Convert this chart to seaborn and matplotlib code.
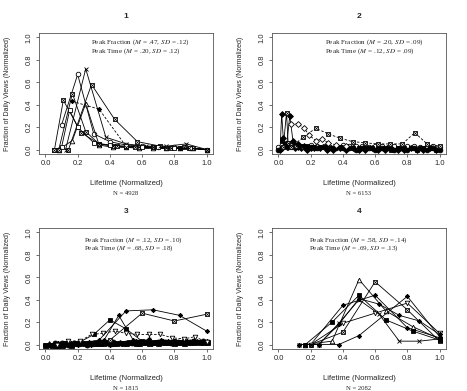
import matplotlib
matplotlib.use("Agg")
import matplotlib.pyplot as plt
import seaborn as sns

# ---- data ----
titles = ["1", "2", "3", "4"]
sample_sizes = ["N = 4928", "N = 6153", "N = 1815", "N = 2082"]
peak_frac = [(".47", ".12"), (".20", ".09"), (".12", ".10"), (".58", ".14")]
peak_time = [(".20", ".12"), (".12", ".09"), (".68", ".18"), (".69", ".13")]
ticks = [0.0, 0.2, 0.4, 0.6, 0.8, 1.0]
tick_labels = ["0.0", "0.2", "0.4", "0.6", "0.8", "1.0"]

x5 = [0.2, 0.4, 0.6, 0.8, 1.0]
x6 = [0.167, 0.333, 0.5, 0.667, 0.833, 1.0]
x7 = [0.143, 0.286, 0.429, 0.571, 0.714, 0.857, 1.0]
x8 = [0.125, 0.25, 0.375, 0.5, 0.625, 0.75, 0.875, 1.0]
x9 = [0.056, 0.111, 0.222, 0.333, 0.444, 0.556, 0.667, 0.778, 0.889, 1.0]
x10 = [0.1, 0.2, 0.3, 0.4, 0.5, 0.6, 0.7, 0.8, 0.9, 1.0]
x11 = [0.091, 0.182, 0.273, 0.364, 0.455, 0.545, 0.636, 0.727, 0.818, 0.909, 1.0]
x12 = [0.083, 0.167, 0.25, 0.333, 0.417, 0.5, 0.583, 0.667, 0.75, 0.833, 0.917, 1.0]
x13 = [0.077, 0.154, 0.231, 0.308, 0.385, 0.462, 0.538, 0.615, 0.692, 0.769, 0.846, 0.923, 1.0]
x14 = [0.071, 0.143, 0.214, 0.286, 0.357, 0.429, 0.5, 0.571, 0.643, 0.714, 0.786, 0.857, 0.929, 1.0]
x_irr = [0.05, 0.1, 0.15, 0.2, 0.3, 0.4, 0.5, 0.6, 0.7, 0.8, 0.9, 1.0]
band_x = [0.00, 0.04, 0.08, 0.12, 0.16, 0.20, 0.24, 0.28, 0.32, 0.36, 0.40, 0.44, 0.48,
          0.52, 0.56, 0.60, 0.64, 0.68, 0.72, 0.76, 0.80, 0.84, 0.88, 0.92, 0.96, 1.00]
band_x2 = [0.02, 0.06, 0.10, 0.14, 0.18, 0.22, 0.26, 0.30, 0.34, 0.38, 0.42, 0.46, 0.50,
           0.54, 0.58, 0.62, 0.66, 0.70, 0.74, 0.78, 0.82, 0.86, 0.90, 0.94, 0.98]

# panel 1
p1_box7 = [0.00, 0.58, 0.27, 0.07, 0.03, 0.02, 0.00]
p1_cross8 = [0.00, 0.72, 0.11, 0.05, 0.03, 0.03, 0.05, 0.00]
p1_circ10 = [0.22, 0.67, 0.14, 0.07, 0.04, 0.03, 0.02, 0.02, 0.01, 0.00]
p1_tri12 = [0.00, 0.08, 0.41, 0.04, 0.02, 0.02, 0.01, 0.01, 0.01, 0.01, 0.01, 0.00]
p1_box12 = [0.00, 0.50, 0.16, 0.05, 0.03, 0.02, 0.02, 0.02, 0.01, 0.01, 0.01, 0.00]
p1_star6 = [0.43, 0.36, 0.03, 0.02, 0.01, 0.00]
p1_box9 = [0.00, 0.44, 0.15, 0.05, 0.03, 0.02, 0.02, 0.01, 0.01, 0.00]
p1_sq_irr = [0.00, 0.02, 0.35, 0.20, 0.06, 0.04, 0.03, 0.02, 0.02, 0.01, 0.01, 0.00]

# panel 2
p2_spike_x = [0.01, 0.02, 0.03, 0.05, 0.08, 0.12, 0.16, 0.20]
p2_spike_a = [0.00, 0.32, 0.10, 0.04, 0.03, 0.02, 0.02, 0.01]
p2_spike_x2 = [0.03, 0.05, 0.06, 0.08, 0.11, 0.15]
p2_spike_b = [0.02, 0.33, 0.06, 0.04, 0.03, 0.02]
p2_spike_x3 = [0.05, 0.07, 0.09, 0.12, 0.16]
p2_spike_c = [0.02, 0.30, 0.08, 0.05, 0.03]
p2_diam_x = [0.08, 0.12, 0.16, 0.19, 0.23, 0.27, 0.31, 0.36, 0.42]
p2_diam = [0.23, 0.23, 0.19, 0.13, 0.08, 0.09, 0.06, 0.04, 0.03]
p2_dash13 = [0.02, 0.11, 0.19, 0.14, 0.10, 0.07, 0.06, 0.05, 0.05, 0.05, 0.15, 0.05, 0.03]
p2_b1 = [0.00, 0.05, 0.04, 0.03, 0.02, 0.02, 0.01, 0.02, 0.01, 0.01, 0.01, 0.01, 0.00,
         0.01, 0.01, 0.00, 0.01, 0.01, 0.00, 0.01, 0.00, 0.01, 0.01, 0.00, 0.01, 0.00]
p2_b2 = [0.08, 0.06, 0.04, 0.03, 0.03, 0.02, 0.02, 0.02, 0.01, 0.02, 0.01, 0.01, 0.01,
         0.01, 0.01, 0.01, 0.01, 0.00, 0.01, 0.01, 0.01, 0.00, 0.01, 0.01, 0.00]
p2_b3 = [0.02, 0.03, 0.02, 0.03, 0.03, 0.04, 0.03, 0.03, 0.02, 0.03, 0.04, 0.03, 0.03,
         0.03, 0.02, 0.03, 0.03, 0.02, 0.03, 0.02, 0.03, 0.03, 0.02, 0.03, 0.03, 0.02]
p2_b4 = [0.01, 0.02, 0.01, 0.01, 0.00, 0.01, 0.01, 0.00, 0.00, 0.01, 0.00, 0.01, 0.00,
         0.00, 0.01, 0.00, 0.00, 0.01, 0.00, 0.00, 0.01, 0.00, 0.00, 0.01, 0.00]

# panel 3
p3_star6 = [0.00, 0.04, 0.30, 0.31, 0.26, 0.12]
p3_box5 = [0.01, 0.04, 0.28, 0.21, 0.27]
p3_fsq10 = [0.00, 0.01, 0.09, 0.22, 0.14, 0.03, 0.02, 0.03, 0.02, 0.02]
p3_star11 = [0.00, 0.01, 0.02, 0.04, 0.26, 0.04, 0.03, 0.03, 0.02, 0.03, 0.02]
p3_tdown14 = [0.00, 0.03, 0.03, 0.09, 0.10, 0.12, 0.10, 0.09, 0.09, 0.09, 0.06, 0.05, 0.07, 0.02]
p3_b1 = [0.00, 0.00, 0.00, 0.01, 0.00, 0.01, 0.01, 0.01, 0.01, 0.01, 0.01, 0.01, 0.01,
         0.02, 0.01, 0.02, 0.01, 0.02, 0.02, 0.02, 0.01, 0.02, 0.02, 0.02, 0.02, 0.02]
p3_b2 = [0.00, 0.01, 0.01, 0.00, 0.01, 0.01, 0.00, 0.01, 0.01, 0.01, 0.02, 0.01, 0.01,
         0.01, 0.02, 0.02, 0.01, 0.02, 0.02, 0.01, 0.02, 0.03, 0.02, 0.02, 0.03]
p3_b3 = [0.00, 0.00, 0.01, 0.00, 0.01, 0.00, 0.01, 0.00, 0.01, 0.01, 0.00, 0.01, 0.01,
         0.01, 0.03, 0.02, 0.05, 0.02, 0.04, 0.03, 0.03, 0.02, 0.03, 0.04, 0.02, 0.03]
p3_b4 = [0.01, 0.00, 0.00, 0.01, 0.01, 0.02, 0.01, 0.01, 0.01, 0.02, 0.01, 0.02, 0.01,
         0.02, 0.01, 0.02, 0.02, 0.01, 0.02, 0.02, 0.02, 0.01, 0.02, 0.03, 0.02]

# panel 4
p4_tri6 = [0.00, 0.03, 0.58, 0.30, 0.16, 0.05]
p4_box5 = [0.00, 0.11, 0.56, 0.31, 0.03]
p4_star5 = [0.00, 0.35, 0.44, 0.15, 0.06]
p4_star_b_x = [0.125, 0.25, 0.375, 0.5, 0.8, 1.0]
p4_star_b = [0.00, 0.00, 0.00, 0.08, 0.43, 0.07]
p4_fsq6 = [0.00, 0.20, 0.44, 0.22, 0.12, 0.04]
p4_tdown5 = [0.00, 0.19, 0.28, 0.37, 0.10]
p4_cross8 = [0.00, 0.00, 0.19, 0.40, 0.27, 0.03, 0.03, 0.05]
p4_star8 = [0.00, 0.00, 0.18, 0.41, 0.36, 0.26, 0.21, 0.09]

# ---- style ----
sns.set_theme(style="ticks")
plt.rcParams["font.family"] = ["Liberation Sans", "DejaVu Sans"]
plt.rcParams["mathtext.fontset"] = "stix"

ASTER = (8, 2, 0)
DASH = (0, (3, 2))


def draw(ax, xs, ys, m, fill="white", ls="-", ms=3.3):
    boxx = m == "boxx"
    sns.lineplot(x=xs, y=ys, ax=ax, color="black", lw=0.6, linestyle=ls,
                 marker="s" if boxx else m, markersize=ms,
                 markerfacecolor=fill, markeredgecolor="black",
                 markeredgewidth=0.6, estimator=None, sort=False)
    if boxx:
        sns.scatterplot(x=xs, y=ys, ax=ax, marker="x", s=ms * 2.2,
                        color="black", linewidth=0.5, zorder=4)


fig = plt.figure(figsize=(4.67, 3.91), dpi=100)
W, H = 467, 391
boxes = [(39, 33), (272, 33), (39, 228), (272, 228)]
axes = []
for (px, py) in boxes:
    ax = fig.add_axes([px / W, 1 - (py + 121) / H, 174 / W, 121 / H])
    axes.append(ax)

# panel 1
ax = axes[0]
draw(ax, x7, p1_box7, "boxx")
draw(ax, x8, p1_cross8, "x")
draw(ax, x10, p1_circ10, "o")
draw(ax, x12, p1_tri12, "^")
draw(ax, x12, p1_box12, "boxx")
draw(ax, x6, p1_star6, ASTER, ls=DASH)
draw(ax, x9, p1_box9, "boxx")
draw(ax, x_irr, p1_sq_irr, "s")

# panel 2
ax = axes[1]
draw(ax, band_x, p2_b3, "o", ms=3.2)
draw(ax, band_x, p2_b1, "o", fill="black", ms=3.4)
draw(ax, band_x2, p2_b2, "s", fill="black", ms=3.4)
draw(ax, band_x2, p2_b4, "D", fill="black", ms=3.0)
draw(ax, p2_spike_x, p2_spike_a, "D", fill="black", ms=3.0)
draw(ax, p2_spike_x2, p2_spike_b, "boxx", ms=3.0)
draw(ax, p2_spike_x3, p2_spike_c, "D", fill="black", ms=3.0)
draw(ax, p2_diam_x, p2_diam, "D", ls=DASH, ms=3.0)
draw(ax, x13, p2_dash13, "boxx", ls=DASH, ms=3.0)

# panel 3
ax = axes[2]
draw(ax, band_x, p3_b1, "s", fill="black", ms=3.6)
draw(ax, band_x2, p3_b2, "o", fill="black", ms=3.6)
draw(ax, band_x, p3_b3, ASTER, ms=3.4)
draw(ax, band_x2, p3_b4, "^", fill="black", ms=3.6)
draw(ax, x6, p3_star6, ASTER)
draw(ax, x5, p3_box5, "boxx")
draw(ax, x10, p3_fsq10, "s", fill="black")
draw(ax, x11, p3_star11, ASTER)
draw(ax, x14, p3_tdown14, "v", ls=DASH)

# panel 4
ax = axes[3]
draw(ax, x6, p4_tri6, "^")
draw(ax, x5, p4_box5, "boxx")
draw(ax, x5, p4_star5, ASTER)
draw(ax, p4_star_b_x, p4_star_b, ASTER)
draw(ax, x6, p4_fsq6, "s", fill="black")
draw(ax, x5, p4_tdown5, "v")
draw(ax, x8, p4_cross8, "x")
draw(ax, x8, p4_star8, ASTER)

text_x = [0.28, 0.29, 0.24, 0.19]
text_y = [(0.955, 0.88), (0.955, 0.88), (0.935, 0.86), (0.935, 0.86)]
for i, ax in enumerate(axes):
    ax.set_xlim(-0.04, 1.04)
    ax.set_ylim(-0.04, 1.04)
    ax.set_xticks(ticks)
    ax.set_xticklabels(tick_labels)
    ax.set_yticks(ticks)
    ax.set_yticklabels(tick_labels, rotation=90, va="center")
    ax.tick_params(direction="out", length=2.5, width=0.5, labelsize=5.4,
                   color="#333333", pad=2)
    for sp in ax.spines.values():
        sp.set_visible(True)
        sp.set_linewidth(0.6)
        sp.set_color("#555555")
    ax.set_xlabel("")
    ax.set_ylabel("")
    ax.text(0.5, 1.14, titles[i], transform=ax.transAxes, ha="center",
            va="center", fontsize=6, fontweight="bold")
    ax.text(-0.18, 0.5, "Fraction of Daily Views (Normalized)", transform=ax.transAxes,
            rotation=90, ha="center", va="center", fontsize=5)
    ax.text(0.5, -0.24, "Lifetime (Normalized)", transform=ax.transAxes,
            ha="center", va="center", fontsize=5.5)
    ax.text(0.5, -0.325, sample_sizes[i], transform=ax.transAxes, ha="center",
            va="center", fontsize=4.8, family="Liberation Serif")
    m1, s1 = peak_frac[i]
    m2, s2 = peak_time[i]
    ax.text(text_x[i], text_y[i][0], f"Peak Fraction ($M$ = {m1}, $SD$ = {s1})",
            ha="left", va="center", fontsize=5.1, family="Liberation Serif")
    ax.text(text_x[i], text_y[i][1], f"Peak Time ($M$ = {m2}, $SD$ = {s2})",
            ha="left", va="center", fontsize=5.1, family="Liberation Serif")

fig.savefig("out.png", dpi=100)
